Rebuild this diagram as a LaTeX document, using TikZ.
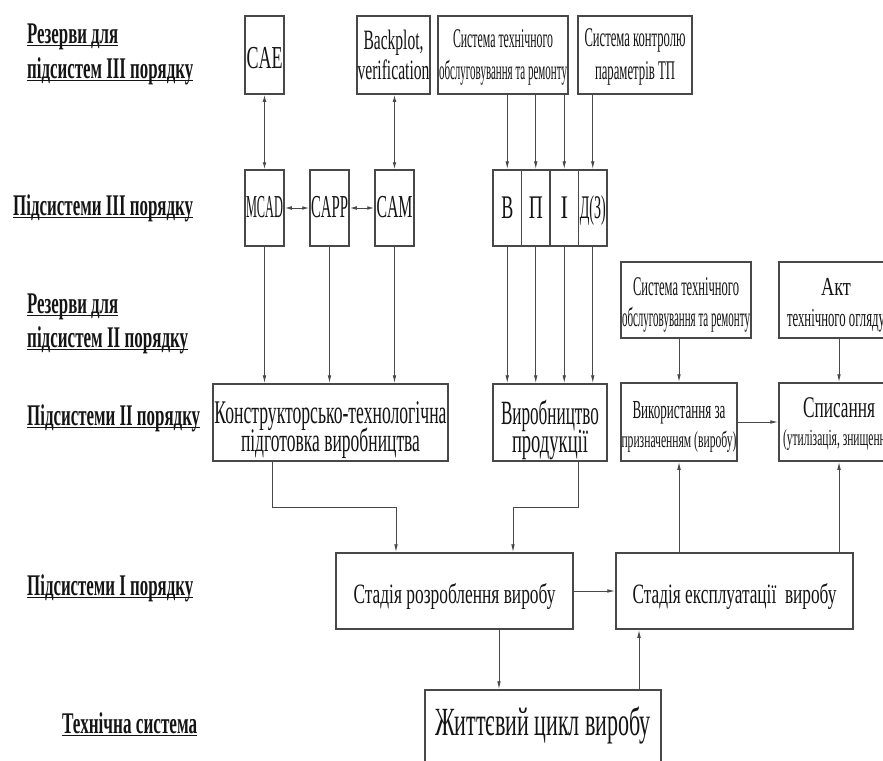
\documentclass[tikz,border=0pt]{standalone}
\usepackage{fontspec}
\setmainfont{Liberation Serif}
\usepackage{graphicx}
\usetikzlibrary{arrows.meta}

\definecolor{ink}{HTML}{141414}
\definecolor{edge}{HTML}{484848}

% squeeze one line of text to a given width, keeping its height
\newcommand{\hw}[2]{\resizebox{#1pt}{\height}{#2}}
% font size / baseline skip
\newcommand{\fs}[2]{\fontsize{#1pt}{#2pt}\selectfont}
% underlined caption line
\newcommand{\ulbar}[2]{\setbox0\hbox{\hw{#1}{#2}}\rlap{\rule[-3pt]{\wd0}{1.3pt}}\box0}
% two centred lines, baseline of the block = baseline of the first line
\newcommand{\twol}[3]{\vtop{\baselineskip=#1pt\lineskiplimit=-100pt\lineskip=0pt\halign{\hfil##\hfil\cr#2\cr#3\cr}}}

\tikzset{
  box/.style={draw=edge, line width=1.5pt, fill=white, inner sep=0pt, anchor=base, text=ink},
  geom/.style n args={3}{minimum width=#1pt, text height=#2pt, text depth=#3pt},
  conn/.style={draw=edge, line width=0.9pt},
  arr/.style={conn, -{Latex[length=8pt,width=3.6pt]}},
  darr/.style={conn, {Latex[length=7pt,width=3.6pt]}-{Latex[length=7pt,width=3.6pt]}},
  lvl/.style={anchor=base west, inner sep=0pt, text=ink, font=\fs{30}{32}\bfseries},
}

\begin{document}
\begin{tikzpicture}[x=1pt,y=-1pt]
\useasboundingbox (0,0) rectangle (883,760);
\clip (0,0) rectangle (883,760);

% ---- level captions (left column)
\node[lvl] (r3a) at (27,43)  {\ulbar{91}{Резерви для}};
\node[lvl] (r3b) at (27,78)  {\ulbar{166}{підсистем III порядку}};
\node[lvl] (s3)  at (13,215) {\ulbar{180}{Підсистеми III порядку}};
\node[lvl] (r2a) at (27,313) {\ulbar{91}{Резерви для}};
\node[lvl] (r2b) at (27,347) {\ulbar{161}{підсистем II порядку}};
\node[lvl] (s2)  at (27,425) {\ulbar{173}{Підсистеми II порядку}};
\node[lvl] (s1)  at (27,595) {\ulbar{166}{Підсистеми I порядку}};
\node[lvl] (ts)  at (62,733) {\ulbar{135}{Технічна система}};

% ---- reserves for level III
\node[box, geom={39}{52}{26}, font=\fs{32}{34}] (cae) at (264.5,68) {\hw{36}{CAE}};
\node[box, geom={73}{34}{44}, font=\fs{28}{30}] (bp) at (393.5,50)
  {\twol{30}{\hw{60}{Backplot,}}{\hw{72}{verification}}};
\node[box, geom={130}{32}{46}, font=\fs{27}{30}] (sys1) at (503,48)
  {\twol{32}{\hw{100}{Система технічного}}{\hw{128}{обслуговування та ремонту}}};
\node[box, geom={114}{31}{47}, font=\fs{27}{30}] (ctl) at (635,47)
  {\twol{33}{\hw{101}{Система контролю}}{\hw{80}{параметрів ТП}}};

% ---- level III subsystems
\node[box, geom={39}{47}{29}, font=\fs{32}{34}] (mcad) at (264.5,217) {\hw{37}{MCAD}};
\node[box, geom={39}{47}{29}, font=\fs{32}{34}] (capp) at (329.5,217) {\hw{37}{CAPP}};
\node[box, geom={39}{47}{29}, font=\fs{32}{34}] (cam)  at (394.5,217) {\hw{36}{CAM}};

\node[box, geom={28.5}{48}{28}, font=\fs{33}{34}] (cB) at (507.25,218) {\hw{12}{В}};
\node[box, geom={28.5}{48}{28}, font=\fs{33}{34}] (cP) at (535.75,218) {\hw{14}{П}};
\node[box, geom={28.5}{48}{28}, font=\fs{33}{34}] (cI) at (564.25,218) {\hw{7.5}{І}};
\node[box, geom={28.5}{48}{28}, font=\fs{33}{34}] (cD) at (592.75,218) {\hw{26}{Д(З)}};

% ---- reserves for level II
\node[box, geom={130}{33}{43}, font=\fs{27}{30}] (sys2) at (686,295)
  {\twol{31}{\hw{106}{Система технічного}}{\hw{128}{обслуговування та ремонту}}};
\node[box, geom={114}{33}{43}, font=\fs{26}{30}] (akt) at (836,295)
  {\twol{31}{\hw{30}{Акт}}{\hw{98}{технічного огляду}}};

% ---- level II subsystems
\node[box, geom={235}{39}{38}, font=\fs{33}{28}] (kt) at (330.5,423)
  {\twol{28}{\hw{232}{Конструкторсько-технологічна}}{\hw{179}{підготовка виробництва}}};
\node[box, geom={114}{40}{37}, font=\fs{34}{28}] (vyr) at (550,424)
  {\twol{28}{\hw{98}{Виробництво}}{\hw{76}{продукції}}};
\node[box, geom={116}{35}{43}] (vyk) at (679,418)
  {\twol{29}{\fs{26}{29}\hw{93}{Використання за}}{\fs{23}{29}\hw{115}{призначенням (виробу)}}};
\node[box, geom={120}{34}{44}] (spys) at (839,417)
  {\twol{28}{\fs{30}{28}\hw{72}{Списання}}{\fs{23}{28}\hw{112}{(утилізація, знищення)}}};

% ---- level I subsystems
\node[box, geom={237}{50}{26}, font=\fs{28}{30}] (sr) at (454.5,603)
  {\hw{202}{Стадія розроблення виробу}\hspace{15pt}};
\node[box, geom={237}{50}{26}, font=\fs{28}{30}] (se) at (734.5,603)
  {\hw{204}{Стадія експлуатації\ \ виробу}};

% ---- technical system
\node[box, geom={236}{45}{45}, font=\fs{40}{42}] (zh) at (543,735)
  {\hw{216}{Життєвий цикл виробу}};

% ---- bend points of the routed connectors
\coordinate (kTurn) at (272,507);
\coordinate (kDrop) at (396,507);
\coordinate (vTurn) at (578,507);
\coordinate (vDrop) at (513,507);
\coordinate (srDown) at (499,660);
\coordinate (zhUp) at (639,660);

% ---- connectors, level III
\draw[darr] (cae.south) -- (mcad.north);
\draw[darr] (cam.north |- bp.south) -- (cam.north);
\draw[darr] (mcad.east) -- (capp.west);
\draw[darr] (capp.east) -- (cam.west);
\foreach \c in {cB,cP,cI}
  \draw[arr] (\c.north |- sys1.south) -- (\c.north);
\draw[arr] (cD.north |- ctl.south) -- (cD.north);

% ---- connectors, level III -> level II
\foreach \c in {mcad,capp,cam}
  \draw[arr] (\c.south) -- (\c.south |- kt.north);
\foreach \c in {cB,cP,cI,cD}
  \draw[arr] (\c.south) -- (\c.south |- vyr.north);
\draw[arr] (vyk.north |- sys2.south) -- (vyk.north);
\draw[arr] (spys.north |- akt.south) -- (spys.north);
\draw[arr] (vyk.east) -- (spys.west |- vyk.east);

% ---- connectors, level II <-> level I
\draw[arr] (kTurn |- kt.south) -- (kTurn) -- (kDrop) -- (kDrop |- sr.north);
\draw[arr] (vTurn |- vyr.south) -- (vTurn) -- (vDrop) -- (vDrop |- sr.north);
\draw[arr] (vyk.south |- se.north) -- (vyk.south);
\draw[arr] (spys.south |- se.north) -- (spys.south);
\draw[arr] (sr.east |- se.west) -- (se.west);

% ---- connectors, level I <-> technical system
\draw[arr] (srDown |- sr.south) -- (srDown |- zh.north);
\draw[arr] (zhUp |- zh.north) -- (zhUp |- se.south);
\end{tikzpicture}
\end{document}
